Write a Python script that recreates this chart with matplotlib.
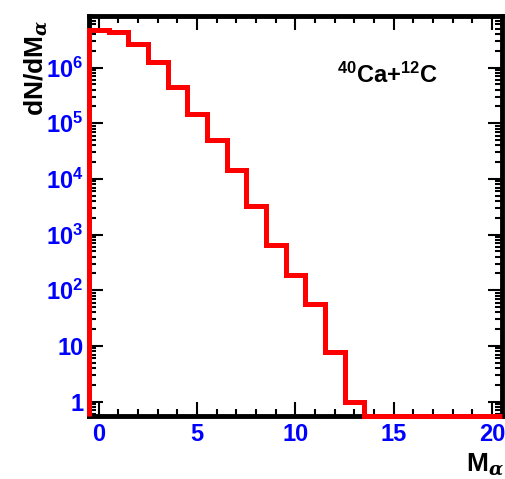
import numpy as np
import matplotlib.pyplot as plt
from matplotlib.ticker import FixedLocator, FuncFormatter, LogLocator, NullFormatter, MultipleLocator

plt.rcParams['font.family'] = ['Liberation Sans', 'DejaVu Sans']
plt.rcParams['font.weight'] = 'bold'
plt.rcParams['mathtext.fontset'] = 'custom'
plt.rcParams['mathtext.rm'] = 'Liberation Sans:bold'
plt.rcParams['mathtext.bf'] = 'Liberation Sans:bold'
plt.rcParams['mathtext.it'] = 'DejaVu Serif:italic'

# alpha multiplicity histogram, bins centred on integers 0..20
m_alpha = np.arange(0, 21)
counts = [4.7e6, 4.4e6, 2.7e6, 1.27e6, 4.5e5, 1.45e5, 5.0e4, 1.44e4, 3.3e3,
          640, 186, 57, 7.7, 1.0, 0, 0, 0, 0, 0, 0, 0]
x_ticks = [0, 5, 10, 15, 20]
y_ticks = [1, 10, 1e2, 1e3, 1e4, 1e5, 1e6]
y_min, y_max = 0.55, 8.6e6

fig = plt.figure(figsize=(5.05, 4.79), dpi=100)
ax = fig.add_axes([0.176, 0.1315, 0.818, 0.836])

edges = np.append(m_alpha - 0.5, m_alpha[-1] + 0.5)
# empty bins are drawn on the bottom of the frame, like ROOT does on log scale
vals = np.maximum(np.array(counts, dtype=float), y_min)
ax.stairs(vals, edges, baseline=y_min, color='red', linewidth=3.6,
          zorder=4, clip_on=False)

ax.set_yscale('log')
ax.set_xlim(-0.5, 20.5)
ax.set_ylim(y_min, y_max)

ax.xaxis.set_major_locator(FixedLocator(x_ticks))
ax.xaxis.set_minor_locator(MultipleLocator(1))
ax.yaxis.set_major_locator(FixedLocator(y_ticks))
ax.yaxis.set_minor_locator(LogLocator(base=10, subs=np.arange(2, 10)))
ax.yaxis.set_minor_formatter(NullFormatter())


def ylab(v, pos):
    e = int(round(np.log10(v)))
    if e == 0:
        return '1'
    if e == 1:
        return '10'
    return r'$\mathregular{10^{%d}}$' % e


ax.yaxis.set_major_formatter(FuncFormatter(ylab))

ax.tick_params(which='both', direction='in', top=True, right=True,
               colors='black', labelcolor='blue', labelsize=17, width=1.5)
ax.tick_params(which='major', length=10)
ax.tick_params(which='minor', length=5)
ax.tick_params(axis='x', pad=5)
ax.tick_params(axis='y', pad=4)
for lab in ax.get_xticklabels() + ax.get_yticklabels():
    lab.set_fontweight('bold')

for sp in ax.spines.values():
    sp.set_linewidth(3.5)

ax.set_ylabel(r'dN/dM$_{\alpha}$', fontsize=19, fontweight='bold', loc='top')
ax.yaxis.set_label_coords(-0.095, 0.99)
ax.set_xlabel(r'M$_{\alpha}$', fontsize=19, fontweight='bold', loc='right')
ax.xaxis.set_label_coords(1.005, -0.09)

ax.text(0.60, 0.85, r'$\mathregular{^{40}}$Ca+$\mathregular{^{12}}$C', transform=ax.transAxes,
        fontsize=17, fontweight='bold', ha='left', va='center')

fig.savefig('out.png', dpi=100)
